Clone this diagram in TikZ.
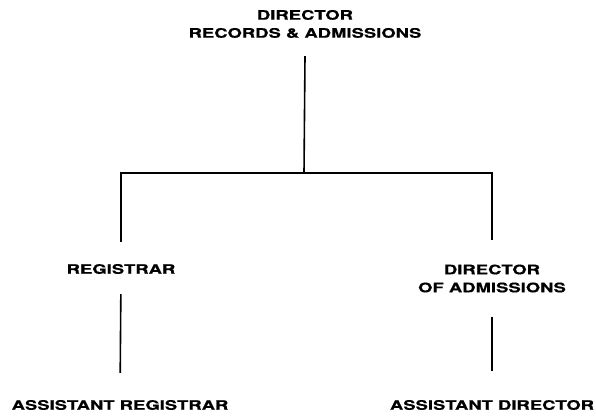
\documentclass[tikz,border=0pt]{standalone}
\usepackage{fontspec}
\newfontfamily\orgfont{TeX Gyre Heros}[FakeStretch=1.42, FakeBold=0.6]
\usepackage{tikz}
\tikzset{
    post/.style={font=\orgfont\bfseries\fontsize{13}{18}\selectfont, align=center, inner sep=0pt},
    link/.style={line width=1.6pt},
}

\begin{document}
\begin{tikzpicture}[x=1pt, y=-1pt]
    \useasboundingbox (0,0) rectangle (596,415);
    \node[post] (dir) at (305,24) {DIRECTOR\\RECORDS \& ADMISSIONS};
    \node[post] (reg) at (121,269) {REGISTRAR};
    \node[post] (doa) at (492,278.5) {DIRECTOR\\OF ADMISSIONS};
    \node[post] (areg) at (120,405) {ASSISTANT REGISTRAR};
    \node[post] (adir) at (492,405) {ASSISTANT DIRECTOR};
    \coordinate (split) at (304,173);
	%\draw[link] (dir) -- (split);
    \draw[link] (dir.south) ++(0,18) -- (split);
    \draw[link] (split) -| (reg.north) [shorten >=22pt];
    \draw[link] (split) -| (doa.north) [shorten >=24pt];
    \draw[link, shorten <=20pt, shorten >=27pt] (reg.south) -- (areg.north);
    \draw[link, shorten <=24pt, shorten >=29pt] (doa.south) -- (adir.north);
\end{tikzpicture}
\end{document}
